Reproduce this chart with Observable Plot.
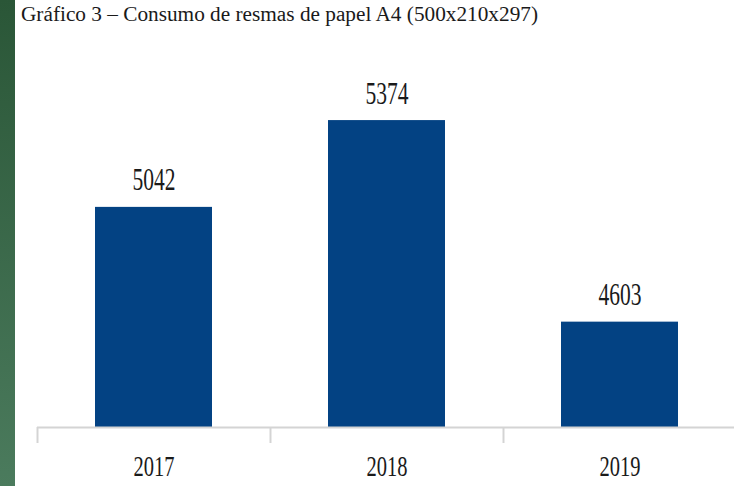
<!DOCTYPE html>
<html>
<head>
<meta charset="utf-8">
<script src="https://cdn.jsdelivr.net/npm/d3@7"></script>
<script src="https://cdn.jsdelivr.net/npm/@observablehq/plot@0.6"></script>
<style>
  html, body { margin: 0; padding: 0; background: #fff; }
  #wrap { position: relative; width: 734px; height: 486px; overflow: hidden; }
  #strip { position: absolute; left: 0; top: 0; width: 15px; height: 486px;
           background: linear-gradient(#2a5637, #4b7b5d); }
  #title { position: absolute; left: 21px; top: 4px;
           font-family: "Liberation Serif", "Times New Roman", Times, "DejaVu Serif", serif;
           font-size: 20.5px; line-height: 20px; color: #1a1a1a; white-space: nowrap;
           transform-origin: 0 0; }
  #chart { position: absolute; left: 0; top: 0; }
</style>
</head>
<body>
<div id="wrap">
  <div id="strip"></div>
  <div id="chart"></div>
  <div id="title"></div>
</div>
<script>
const titleText = "Gráfico 3 – Consumo de resmas de papel A4 (500x210x297)";
const years = ["2017", "2018", "2019"];
const consumo = [5042, 5374, 4603];

const data = years.map((y, i) => ({year: y, value: consumo[i]}));
const baseValue = 4200;
const serif = '"Liberation Serif", "Times New Roman", Times, "DejaVu Serif", serif';

const titleEl = document.getElementById("title");
titleEl.textContent = titleText;
const tw = titleEl.getBoundingClientRect().width;
titleEl.style.transform = `scaleX(${517 / tw})`;

const plot = Plot.plot({
  width: 734,
  height: 486,
  marginTop: 61,
  marginBottom: 59,
  marginLeft: 37,
  marginRight: 0,
  x: {domain: years, range: [37, 736], paddingInner: 0.5, paddingOuter: 0.25, axis: null},
  y: {domain: [baseValue, 5600], axis: null},
  style: {fontFamily: serif, background: "transparent"},
  marks: [
    Plot.barY(data, {x: "year", y1: baseValue, y2: "value", fill: "#034283"}),
    Plot.ruleY([baseValue], {stroke: "#d4d4d4", strokeWidth: 2}),
    Plot.ruleX(data, {x: "year", y1: baseValue, y2: baseValue, dx: -116.5, insetBottom: -16, stroke: "#d4d4d4", strokeWidth: 2}),
    Plot.text(data, {x: "year", y: "value", text: d => String(d.value), lineAnchor: "bottom", dy: -17,
      fontSize: 32, fill: "#1a1a1a"}),
    Plot.text(data, {x: "year", frameAnchor: "bottom", text: "year", lineAnchor: "bottom", dy: 48,
      fontSize: 29, fill: "#1a1a1a"})
  ]
});
document.getElementById("chart").appendChild(plot);

plot.querySelectorAll("text").forEach(t => {
  t.style.fontFamily = serif;
  const isYear = years.includes(t.textContent.trim());
  t.setAttribute("textLength", isYear ? 41 : 43);
  t.setAttribute("lengthAdjust", "spacingAndGlyphs");
});
</script>
</body>
</html>
